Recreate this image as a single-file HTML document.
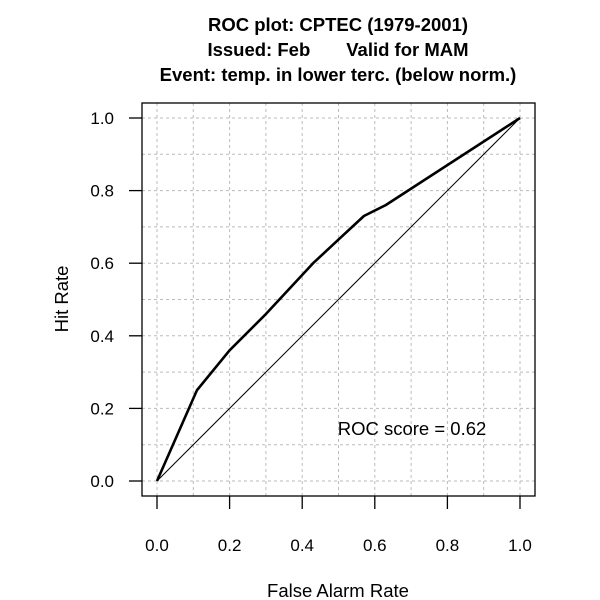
<!DOCTYPE html>
<html><head><meta charset="utf-8"><style>
body{margin:0;background:#fff;}
svg{display:block;font-family:"Liberation Sans",Arial,sans-serif;}
</style></head><body>
<svg id="chart" width="600" height="600">
<g font-weight="bold" font-size="18.5" text-anchor="middle">
<text x="338" y="31">ROC plot: CPTEC (1979-2001)</text>
<text x="338" y="56" xml:space="preserve">Issued: Feb       Valid for MAM</text>
<text x="338" y="81">Event: temp. in lower terc. (below norm.)</text>
</g>
<g id="grid"></g>
<g id="axes"></g>
<g id="series"></g>
<text x="412" y="435" font-size="18.5" text-anchor="middle">ROC score = 0.62</text>
<text x="338" y="597" font-size="18.5" text-anchor="middle">False Alarm Rate</text>
<text x="0" y="0" font-size="18.5" text-anchor="middle" transform="translate(68,299) rotate(-90)">Hit Rate</text>
</svg>
<script>
const rocFar=[0,0.11,0.2,0.3,0.43,0.5,0.57,0.63,1];
const rocHit=[0,0.25,0.36,0.46,0.6,0.665,0.73,0.76,1];
const ticks=[0,0.2,0.4,0.6,0.8,1.0];
const tickLabels=["0.0","0.2","0.4","0.6","0.8","1.0"];
const gridVals=[0,0.1,0.2,0.3,0.4,0.5,0.6,0.7,0.8,0.9,1];
const NS="http://www.w3.org/2000/svg";
const X0=157,X1=520,Y0=481,Y1=118,L=142,R=535,T=103,B=496;
const sx=v=>X0+v*(X1-X0), sy=v=>Y0-v*(Y0-Y1);
function mk(tag,attrs,parent){const e=document.createElementNS(NS,tag);for(const k in attrs)e.setAttribute(k,attrs[k]);parent.appendChild(e);return e;}
const grid=document.getElementById('grid'),axes=document.getElementById('axes'),series=document.getElementById('series');
gridVals.forEach(v=>{
 let a=mk('line',{x1:sx(v),x2:sx(v),y1:T,y2:B,stroke:'#bbb','stroke-dasharray':'3,3'},grid);
 
 
 let b=mk('line',{x1:L,x2:R,y1:sy(v),y2:sy(v),stroke:'#bbb','stroke-dasharray':'3,3'},grid);
 
 
});
let box=mk('rect',{x:L,y:T,width:R-L,height:B-T,fill:'none',stroke:'#000','stroke-width':1.3},axes);


ticks.forEach((v,i)=>{
 let t=mk('line',{x1:sx(v),x2:sx(v),y1:B,y2:B+13,stroke:'#000','stroke-width':1.3},axes);
 
 
 let tl=mk('text',{x:sx(v),y:551,'font-size':17,'text-anchor':'middle'},axes);tl.textContent=tickLabels[i];
 
 
 let u=mk('line',{x1:L-13,x2:L,y1:sy(v),y2:sy(v),stroke:'#000','stroke-width':1.3},axes);
 
 
 let ul=mk('text',{x:114,y:sy(v)+6,'font-size':17,'text-anchor':'end'},axes);ul.textContent=tickLabels[i];
 
 
});
let diag=mk('line',{x1:sx(0),y1:sy(0),x2:sx(1),y2:sy(1),stroke:'#000','stroke-width':1},series);


let pts=rocFar.map((f,i)=>sx(f)+','+sy(rocHit[i])).join(' ');
let roc=mk('polyline',{points:pts,fill:'none',stroke:'#000','stroke-width':2.6,'stroke-linejoin':'round'},series);


</script>
</body></html>
